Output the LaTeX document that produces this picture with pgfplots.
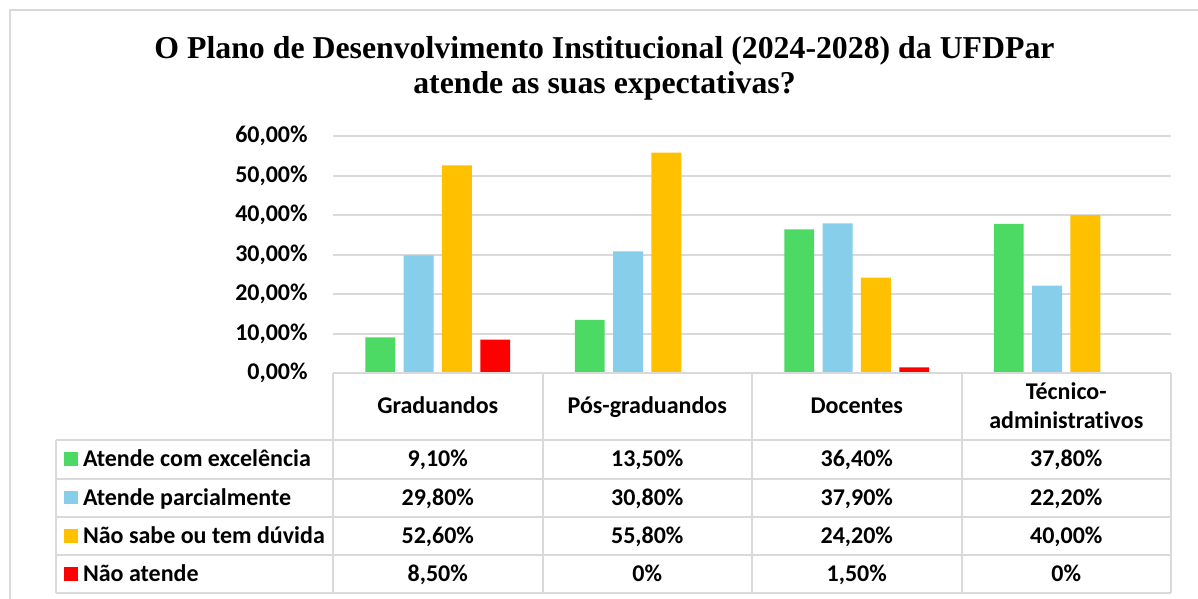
\documentclass[border=0pt]{standalone}
\usepackage{pgfplots}
\pgfplotsset{compat=1.18}
\usepackage{fontspec}
\setmainfont{Carlito}[Ligatures=CommonOff]
\newfontfamily\tnr{Liberation Serif}[Ligatures=CommonOff]
\definecolor{cgreen}{HTML}{4CD964}
\definecolor{cblue}{HTML}{87CEEB}
\definecolor{cgold}{HTML}{FFC000}
\definecolor{cred}{HTML}{FF0000}
\definecolor{cgrid}{HTML}{D9D9D9}
\newcommand{\tf}{\fontsize{12}{14}\selectfont\bfseries}
\begin{document}
\begin{tikzpicture}
\path[use as bounding box] (0pt,0pt) rectangle (599pt,-299.5pt);
\begin{scope}[x=0.5pt,y=-0.5pt]
\draw[cgrid, line width=1pt] (10,599) -- (10,10) -- (1198,10);
\end{scope}
\begin{axis}[
  at={(166.5pt,-186.65pt)}, anchor=south west,
  scale only axis, width=419pt, height=118.65pt,
  xmin=-0.5, xmax=3.5, ymin=0, ymax=60,
  ybar, bar width=0.143,
  axis line style={draw=none},
  xtick=\empty,
  ytick={0,10,20,30,40,50,60},
  yticklabels={{0,00\%},{10,00\%},{20,00\%},{30,00\%},{40,00\%},{50,00\%},{60,00\%}},
  ymajorgrids, grid style={cgrid, line width=1pt},
  major tick length=0pt,
  yticklabel style={font=\tf, inner sep=0pt},
  yticklabel shift=12.5pt,
  legend cell align=left,
  legend style={at={(-0.3210,-0.2811)}, anchor=north west, draw=none, fill=none,
    inner sep=0pt, outer sep=0pt, column sep=2.5pt, row sep=0pt, font=\tf,
    nodes={inner sep=0pt, text height=13.35pt, text depth=5.8pt}},
  sq/.style={draw=none, fill=#1,
    legend image code/.code={\fill[#1] (0pt,-3.4pt) rectangle (7pt,3.4pt);}},
]
\addplot[sq=cgreen, bar shift=-0.2745] coordinates {(0,9.1) (1,13.5) (2,36.4) (3,37.8)};
\addplot[sq=cblue, bar shift=-0.0915] coordinates {(0,29.8) (1,30.8) (2,37.9) (3,22.2)};
\addplot[sq=cgold, bar shift=0.0915] coordinates {(0,52.6) (1,55.8) (2,24.2) (3,40.0)};
\addplot[sq=cred, bar shift=0.2745] coordinates {(0,8.5) (1,0) (2,1.5) (3,0)};
\legend{Atende com excelência, Atende parcialmente, Não sabe ou tem dúvida, Não atende}
\end{axis}
\begin{scope}[x=0.5pt,y=-0.5pt]
% title
\node[anchor=base, font=\tnr\bfseries\fontsize{15.9}{19}\selectfont] at (604.5,59) {O Plano de Desenvolvimento Institucional (2024-2028) da UFDPar};
\node[anchor=base, font=\tnr\bfseries\fontsize{15.9}{19}\selectfont] at (604.5,94) {atende as suas expectativas?};
% table lines
\begin{scope}[cgrid, line width=1pt]
\draw (333,373.3) -- (1171,373.3);
\foreach \yy in {440,478.7,516.7,555,593.3} \draw (56,\yy) -- (1171,\yy);
\draw (56,440) -- (56,593.3);
\foreach \xx in {333,542.5,752,961.5,1171} \draw (\xx,373.3) -- (\xx,593.3);
\end{scope}
% header
\node[anchor=base, font=\tf] at (437.75,413.3) {Graduandos};
\node[anchor=base, font=\tf] at (647.25,413.3) {Pós-graduandos};
\node[anchor=base, font=\tf] at (856.75,413.3) {Docentes};
\node[anchor=base, font=\tf] at (1066.25,399.3) {Técnico-};
\node[anchor=base, font=\tf] at (1066.25,428.3) {administrativos};
% values
\node[anchor=base, font=\tf] at (437.75,466.7) {9,10\%};
\node[anchor=base, font=\tf] at (647.25,466.7) {13,50\%};
\node[anchor=base, font=\tf] at (856.75,466.7) {36,40\%};
\node[anchor=base, font=\tf] at (1066.25,466.7) {37,80\%};
\node[anchor=base, font=\tf] at (437.75,505.0) {29,80\%};
\node[anchor=base, font=\tf] at (647.25,505.0) {30,80\%};
\node[anchor=base, font=\tf] at (856.75,505.0) {37,90\%};
\node[anchor=base, font=\tf] at (1066.25,505.0) {22,20\%};
\node[anchor=base, font=\tf] at (437.75,543.2) {52,60\%};
\node[anchor=base, font=\tf] at (647.25,543.2) {55,80\%};
\node[anchor=base, font=\tf] at (856.75,543.2) {24,20\%};
\node[anchor=base, font=\tf] at (1066.25,543.2) {40,00\%};
\node[anchor=base, font=\tf] at (437.75,581.6) {8,50\%};
\node[anchor=base, font=\tf] at (647.25,581.6) {0\%};
\node[anchor=base, font=\tf] at (856.75,581.6) {1,50\%};
\node[anchor=base, font=\tf] at (1066.25,581.6) {0\%};
\end{scope}
\end{tikzpicture}
\end{document}
